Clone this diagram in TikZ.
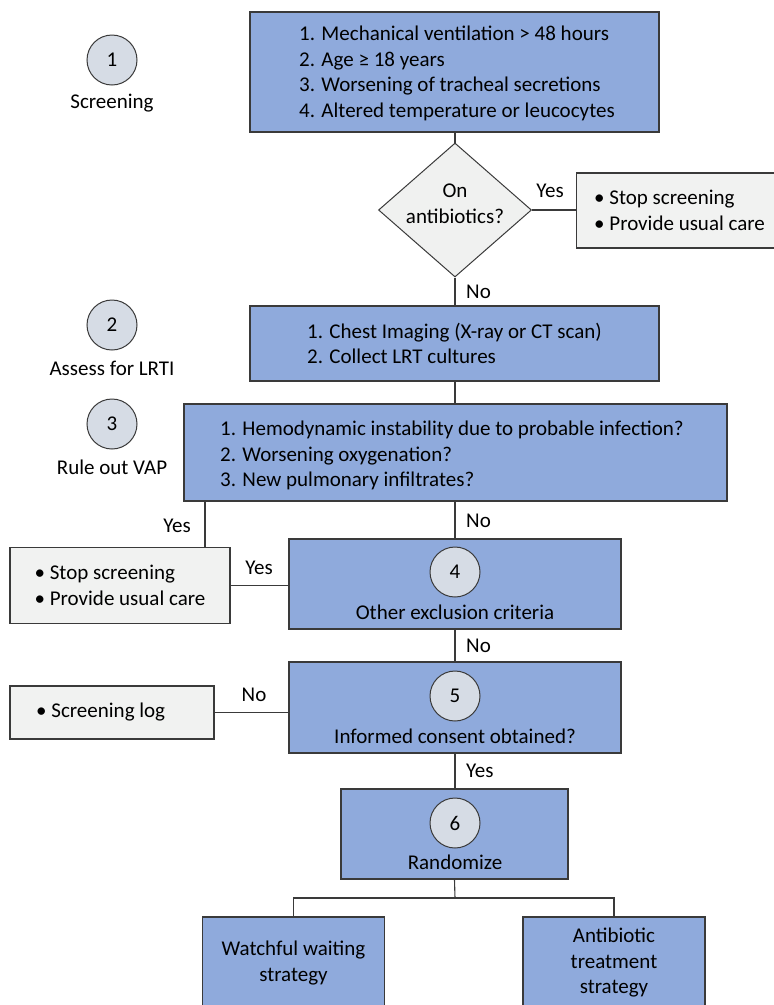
\documentclass[tikz,border=0pt]{standalone}
\usepackage{fontspec}
\setmainfont{Carlito}
\usetikzlibrary{shapes.geometric}
\definecolor{boxblue}{HTML}{8FAADC}
\definecolor{circfill}{HTML}{D6DCE5}
\definecolor{greyfill}{HTML}{F1F2F1}
\definecolor{diafill}{HTML}{F0F1F0}
\definecolor{edgecol}{HTML}{3A3A3A}
\begin{document}
\begin{tikzpicture}[x=1pt,y=-1pt,
  every node/.style={font=\fontsize{21}{25.5}\selectfont, text=black},
  bluebox/.style={draw=edgecol, fill=boxblue, line width=1.1pt, inner sep=0pt, align=left},
  greybox/.style={draw=edgecol, fill=greyfill, line width=1.1pt, inner sep=0pt, align=left},
  numcirc/.style={circle, draw=edgecol, fill=circfill, line width=1pt, minimum size=50pt, inner sep=0pt},
  lbl/.style={inner sep=0pt},
  conn/.style={draw=edgecol, line width=1.1pt}]
\useasboundingbox (0,0) rectangle (774,1005);

% step labels on the left
\node[numcirc] (c1) at (112,60) {1};
\node[lbl] (t1) at (112,103) {Screening};
\node[numcirc] (c2) at (112,325) {2};
\node[lbl] (t2) at (112,368) {Assess for LRTI};
\node[numcirc] (c3) at (112,424) {3};
\node[lbl] (t3) at (112,467) {Rule out VAP};

% top box
\node[bluebox, minimum width=409pt, minimum height=120pt] (b1) at (454.5,72) {};
\node[lbl, anchor=west, align=left] (b1t) at (299,73.5)
  {1. Mechanical ventilation > 48 hours\\2. Age ≥ 18 years\\3. Worsening of tracheal secretions\\4. Altered temperature or leucocytes};

% diamond
\node[diamond, draw=edgecol, fill=diafill, line width=1pt, minimum width=153pt, minimum height=134pt, inner sep=0pt] (dia) at (455,210) {};
\node[lbl, align=center] (dtext) at (455,204) {On\\antibiotics?};

% right grey box (runs past the right edge)
\node[greybox, minimum width=210pt, minimum height=75pt] (g1) at (681.5,210.5) {};
\node[lbl, anchor=west, align=left] (g1t) at (594,210.5) {• Stop screening\\• Provide usual care};

% box 2
\node[bluebox, minimum width=409pt, minimum height=75pt] (b2) at (454.5,343.5)
  {1. Chest Imaging (X-ray or CT scan)\\2. Collect LRT cultures};

% box 3
\node[bluebox, minimum width=543pt, minimum height=97pt] (b3) at (455.5,452.5) {};
\node[lbl, anchor=west, align=left] (b3t) at (220,455.5)
  {1. Hemodynamic instability due to probable infection?\\2. Worsening oxygenation?\\3. New pulmonary infiltrates?};

% left grey box 2
\node[greybox, minimum width=220pt, minimum height=76pt] (g2) at (120,585.5)
  {• Stop screening\\• Provide usual care};

% box 4
\node[bluebox, minimum width=332pt, minimum height=90pt] (b4) at (455,584) {};
\node[numcirc] (c4) at (455,572) {4};
\node[lbl] (t4) at (455,612) {Other exclusion criteria};

% box 5
\node[bluebox, minimum width=332pt, minimum height=91pt] (b5) at (455,707.5) {};
\node[numcirc] (c5) at (455,696) {5};
\node[lbl] (t5) at (455,736) {Informed consent obtained?};

% screening log box
\node[greybox, minimum width=204pt, minimum height=53pt] (g3) at (112,712.5) {};
\node[lbl, anchor=west] (g3t) at (36,712.5) {• Screening log};

% box 6
\node[bluebox, minimum width=227pt, minimum height=90pt] (b6) at (454.5,834) {};
\node[numcirc] (c6) at (455,823) {6};
\node[lbl] (t6) at (455,862) {Randomize};

% bottom boxes
\node[bluebox, minimum width=182pt, minimum height=92pt, align=center] (b7) at (293.5,963)
  {Watchful waiting\\strategy};
\node[bluebox, minimum width=182pt, minimum height=92pt, align=center] (b8) at (614,963)
  {Antibiotic\\treatment\\strategy};

% connectors
\draw[conn] (b1.south -| dia.north) -- (dia.north);
\draw[conn] (dia.east) -- (dia.east -| g1.west);
\node[lbl] (yes1) at (550,191) {Yes};
\draw[conn] (dia.south) -- (dia.south |- b2.north);
\node[lbl, anchor=west] (no1) at (466,292) {No};
\draw[conn] (b2.south -| dia.south) -- (b3.north -| dia.south);
\coordinate (yx) at (205,0);
\draw[conn] (b3.south -| yx) -- (g2.north -| yx);
\node[lbl] (yes2) at (177,526) {Yes};
\draw[conn] (b3.south -| dia.south) -- (b4.north -| dia.south);
\node[lbl, anchor=west] (no2) at (466,521) {No};
\draw[conn] (g2.east) -- (g2.east -| b4.west);
\node[lbl] (yes3) at (259,568) {Yes};
\draw[conn] (b4.south -| dia.south) -- (b5.north -| dia.south);
\node[lbl, anchor=west] (no3) at (466,646) {No};
\draw[conn] (g3.east) -- (g3.east -| b5.west);
\node[lbl] (no4) at (254,695) {No};
\draw[conn] (b5.south -| dia.south) -- (b6.north -| dia.south);
\node[lbl, anchor=west] (yes4) at (466,771) {Yes};
\coordinate (split) at (455,898);
\draw[conn] (b6.south) -- (split);
\draw[conn] (b7.north) -- (b7.north |- split) -- (b8.north |- split) -- (b8.north);
\end{tikzpicture}
\end{document}
